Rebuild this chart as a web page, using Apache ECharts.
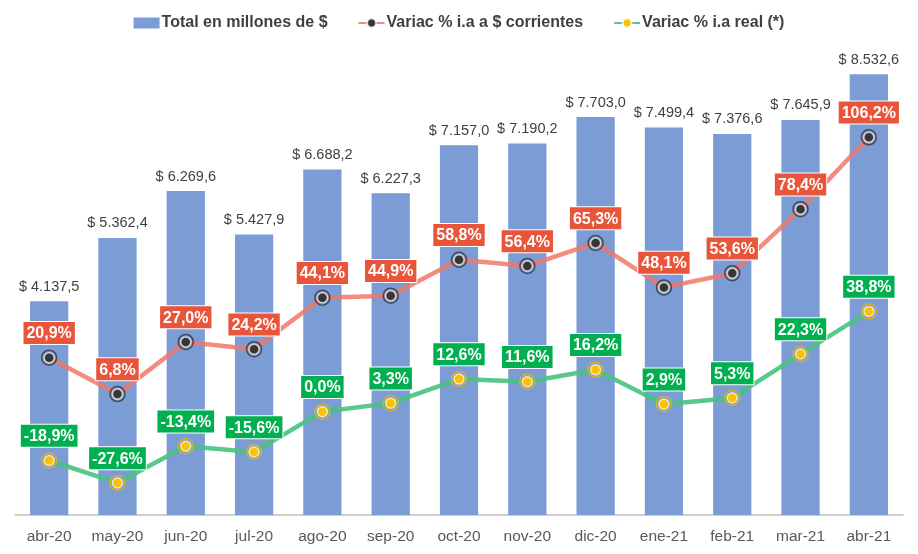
<!DOCTYPE html>
<html>
<head>
<meta charset="utf-8">
<script src="https://cdn.jsdelivr.net/npm/echarts@6/dist/echarts.min.js"></script>
<style>
  html, body { margin: 0; padding: 0; background: #fff; }
  #chart { width: 918px; height: 554px; }
</style>
</head>
<body>
<div id="chart"></div>
<script>
var months = ['abr-20', 'may-20', 'jun-20', 'jul-20', 'ago-20', 'sep-20', 'oct-20',
              'nov-20', 'dic-20', 'ene-21', 'feb-21', 'mar-21', 'abr-21'];
var totalMillones = [4137.5, 5362.4, 6269.6, 5427.9, 6688.2, 6227.3, 7157.0,
                     7190.2, 7703.0, 7499.4, 7376.6, 7645.9, 8532.6];
var variacCorrientes = [20.9, 6.8, 27.0, 24.2, 44.1, 44.9, 58.8, 56.4, 65.3, 48.1, 53.6, 78.4, 106.2];
var variacReal = [-18.9, -27.6, -13.4, -15.6, 0.0, 3.3, 12.6, 11.6, 16.2, 2.9, 5.3, 22.3, 38.8];

var FONT = '"Liberation Sans", Arial, sans-serif';

function fmtNum(v, dec) {
    var parts = v.toFixed(dec).split('.');
    parts[0] = parts[0].replace(/\B(?=(\d{3})+(?!\d))/g, '.');
    return parts.join(',');
}

function pctLabel(bg) {
    return {
        show: true,
        position: 'top',
        distance: 8,
        formatter: function (p) { return fmtNum(p.value, 1) + '%'; },
        color: '#fff',
        fontFamily: FONT,
        fontWeight: 'bold',
        fontSize: 16,
        backgroundColor: bg,
        borderColor: '#fff',
        borderWidth: 1,
        padding: [4, 3, 2, 3]
    };
}

var myChart = echarts.init(document.getElementById('chart'));
var option = {
    animation: false,
    textStyle: { fontFamily: FONT },
    legend: {
        top: 10,
        left: 'center',
        itemGap: 30,
        itemWidth: 26,
        itemHeight: 11,
        textStyle: { color: '#404040', fontWeight: 'bold', fontSize: 16, fontFamily: FONT, padding: [0, 0, 0, -3] },
        data: [
            { name: 'Total en millones de $', icon: 'rect' },
            'Variac % i.a a $ corrientes',
            'Variac % i.a real (*)'
        ]
    },
    grid: { left: 15, right: 15, top: 50, bottom: 39 },
    xAxis: {
        type: 'category',
        data: months,
        axisTick: { show: false },
        axisLine: { lineStyle: { color: '#BFBFBF', width: 1.5 } },
        axisLabel: { color: '#595959', fontSize: 15.5, margin: 14, fontFamily: FONT }
    },
    yAxis: [
        { type: 'value', min: 0, max: 9000, interval: 1000, show: false },
        { type: 'value', min: -40, max: 140, interval: 20, show: false }
    ],
    series: [
        {
            name: 'Total en millones de $',
            type: 'bar',
            data: totalMillones,
            barWidth: '56%',
            itemStyle: { color: '#7B9CD5' },
            label: {
                show: true,
                position: 'top',
                distance: 7,
                color: '#404040',
                fontSize: 14.5,
                fontFamily: FONT,
                formatter: function (p) { return '$ ' + fmtNum(p.value, 1); }
            },
            z: 1
        },
        {
            name: 'Variac % i.a a $ corrientes',
            type: 'line',
            yAxisIndex: 1,
            data: variacCorrientes,
            symbol: 'circle',
            symbolSize: 10,
            lineStyle: { color: 'rgba(238,120,104,0.85)', width: 4.5 },
            itemStyle: { color: '#363636', borderColor: 'rgba(255,255,255,0.7)', borderWidth: 1.5 },
            label: pctLabel('#E8553A'),
            z: 3
        },
        {
            name: 'corrientes-ring',
            type: 'scatter',
            yAxisIndex: 1,
            data: variacCorrientes,
            symbol: 'circle',
            symbolSize: 15,
            itemStyle: { color: 'rgba(0,0,0,0)', borderColor: '#363636', borderWidth: 1.5 },
            silent: true,
            z: 4
        },
        {
            name: 'Variac % i.a real (*)',
            type: 'line',
            yAxisIndex: 1,
            data: variacReal,
            symbol: 'circle',
            symbolSize: 10,
            lineStyle: { color: 'rgba(70,195,125,0.9)', width: 4.5 },
            itemStyle: { color: '#FFC000', borderColor: 'rgba(255,255,255,0.7)', borderWidth: 1.5 },
            label: pctLabel('#00B050'),
            z: 3
        },
        {
            name: 'real-ring',
            type: 'scatter',
            yAxisIndex: 1,
            data: variacReal,
            symbol: 'circle',
            symbolSize: 15,
            itemStyle: { color: 'rgba(0,0,0,0)', borderColor: '#F2B200', borderWidth: 1.5 },
            silent: true,
            z: 4
        }
    ]
};
myChart.setOption(option);
</script>
</body>
</html>
